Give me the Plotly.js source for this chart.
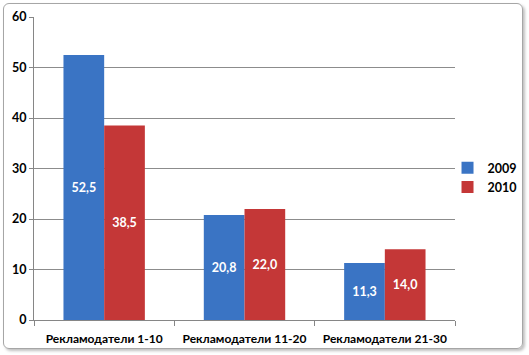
<!DOCTYPE html>
<html><head><meta charset="utf-8">
<script src="https://cdn.plot.ly/plotly-3.0.1.min.js"></script>
<style>
html,body{margin:0;padding:0;background:#fff;}
#wrap{position:relative;width:529px;height:355px;}
#chart{position:absolute;left:0;top:0;width:529px;height:355px;}
#frame{position:absolute;left:3px;top:3px;width:518px;height:344px;border:1px solid #a6a6a6;border-radius:6px;box-shadow:2px 2px 3px rgba(0,0,0,0.25);pointer-events:none;}
</style></head>
<body><div id="wrap"><div id="chart"></div><div id="frame"></div></div>
<script>
var categories = ["Рекламодатели 1-10", "Рекламодатели 11-20", "Рекламодатели 21-30"];
var series2009 = [52.5, 20.8, 11.3];
var series2010 = [38.5, 22.0, 14.0];
var seriesNames = ["2009", "2010"];
var yTicks = [0, 10, 20, 30, 40, 50, 60];

var fontFam = "Lato, Roboto, sans-serif";
function mk(name, vals, color){
  return {type:'bar', name:name, x:categories, y:vals,
    marker:{color:color},
    texttemplate:'%{y:.1f}', textposition:'inside', insidetextanchor:'middle',
    textangle:0,
    textfont:{family:fontFam, size:12.5, color:'#ffffff', weight:'bold'},
    hoverinfo:'none'};
}
var data = [mk(seriesNames[0], series2009, '#3a74c4'), mk(seriesNames[1], series2010, '#c43737')];
var layout = {
  width:529, height:355,
  margin:{l:34, r:74, t:17, b:35, autoexpand:false},
  paper_bgcolor:'rgba(0,0,0,0)', plot_bgcolor:'rgba(0,0,0,0)',
  separators:',.',
  barmode:'group', bargap:0.42, bargroupgap:0,
  font:{family:fontFam, size:12.5, color:'#000', weight:'bold'},
  showlegend:true,
  legend:{x:1.158, y:0.47, xanchor:'right', yanchor:'middle', bgcolor:'rgba(0,0,0,0)', font:{size:12.5, weight:'bold'}, itemwidth:30, tracegroupgap:0},
  xaxis:{showline:true, linecolor:'#868686', linewidth:1, ticks:'outside', ticklen:5, tickcolor:'#868686', tickson:'boundaries', showgrid:false,
    tickangle:0, ticklabelstandoff:8, tickfont:{size:12, weight:'bold'}},
  yaxis:{range:[0,60], tickvals:yTicks, showline:true, linecolor:'#868686', linewidth:1, ticks:'outside', ticklen:4, tickcolor:'#868686',
    showgrid:true, gridcolor:'#8c8c8c', gridwidth:1, zeroline:false, tickfont:{size:12.5, weight:'bold'}}
};
Plotly.newPlot('chart', data, layout, {staticPlot:true});
</script></body></html>
